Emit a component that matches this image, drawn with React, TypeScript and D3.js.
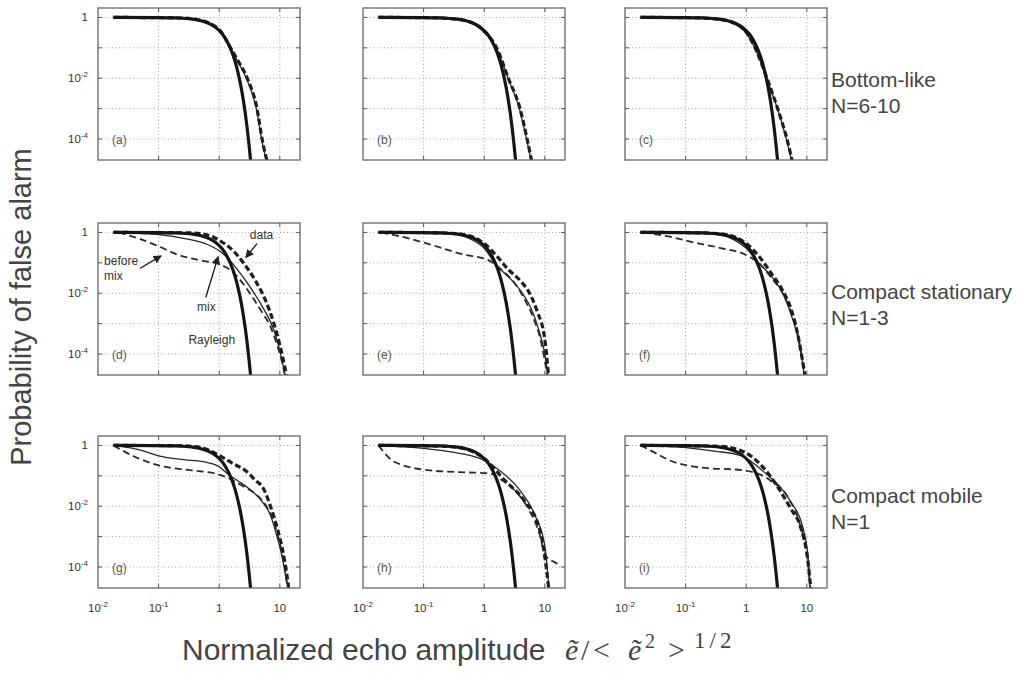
import React from "react";
import * as d3 from "d3";

type Pt = [number, number];

// ---------- labels ----------
const rowNames = ["Bottom-like", "Compact stationary", "Compact mobile"];
const rowCounts = ["N=6-10", "N=1-3", "N=1"];
const panelTags = ["(a)", "(b)", "(c)", "(d)", "(e)", "(f)", "(g)", "(h)", "(i)"];

const xTickVals = [0.01, 0.1, 1, 10];
const xTickBase = ["10", "10", "1", "10"];
const xTickExp = ["-2", "-1", "", ""];
const yTickVals = [1, 0.01, 0.0001];
const yTickBase = ["1", "10", "10"];
const yTickExp = ["", "-2", "-4"];
const xGridVals = [0.1, 1, 10];
const yGridVals = [1, 0.1, 0.01, 0.001, 0.0001];

// ---------- curves (amplitude, probability of false alarm) ----------
const rayleigh: Pt[] = [[0.018, 1], [0.1, 0.99], [0.2, 0.96], [0.35, 0.885], [0.5, 0.78], [0.7, 0.61], [0.9, 0.445], [1.1, 0.3], [1.3, 0.185], [1.5, 0.105], [1.7, 0.056], [1.9, 0.027], [2.1, 0.012], [2.3, 0.005], [2.5, 0.0019], [2.7, 0.00068], [2.9, 0.00022], [3.1, 0.000067], [3.3, 0.000019], [3.5, 0.0000048]];

const dataA: Pt[] = [[0.018, 1], [0.2, 0.97], [0.5, 0.8], [0.8, 0.55], [1, 0.4], [1.5, 0.11], [2, 0.04], [2.9, 0.01], [4.2, 0.001], [5.1, 0.0001], [5.8, 0.00003], [6.4, 0.000015]];
const mixA: Pt[] = [[0.018, 1], [0.2, 0.965], [0.5, 0.78], [0.8, 0.52], [1, 0.38], [1.5, 0.105], [2, 0.037], [2.8, 0.01], [4.1, 0.001], [5, 0.0001], [5.7, 0.00003], [6.3, 0.000015]];
const dataB: Pt[] = [[0.018, 1], [0.1, 0.985], [0.3, 0.9], [0.6, 0.7], [1, 0.35], [1.6, 0.1], [2.5, 0.01], [3.9, 0.001], [5.1, 0.0001], [6.2, 0.000015]];
const mixB: Pt[] = [[0.018, 1], [0.1, 0.98], [0.3, 0.88], [0.6, 0.66], [1, 0.33], [1.6, 0.095], [2.5, 0.0095], [3.8, 0.001], [5, 0.0001], [6.1, 0.000015]];
const dataC: Pt[] = [[0.018, 1], [0.1, 0.985], [0.3, 0.9], [0.6, 0.68], [1, 0.33], [1.4, 0.1], [2.2, 0.01], [3.3, 0.001], [4.7, 0.0001], [5.9, 0.000015]];
const mixC: Pt[] = [[0.018, 1], [0.1, 0.98], [0.3, 0.88], [0.6, 0.64], [1, 0.3], [1.4, 0.095], [2.2, 0.0095], [3.3, 0.00095], [4.6, 0.0001], [5.8, 0.000015]];

const dataD: Pt[] = [[0.018, 1], [0.3, 0.97], [0.6, 0.85], [1, 0.55], [1.7, 0.25], [2.5, 0.1], [4, 0.025], [6, 0.005], [8, 0.001], [10, 0.0002], [12, 0.00004], [13.5, 0.000012]];
const mixD: Pt[] = [[0.018, 1], [0.1, 0.85], [0.3, 0.6], [0.6, 0.42], [1, 0.25], [1.5, 0.12], [2, 0.06], [3, 0.02], [5, 0.004], [8, 0.0006], [10, 0.00013], [12.5, 0.000015]];
const beforeD: Pt[] = [[0.022, 1], [0.05, 0.6], [0.1, 0.35], [0.2, 0.19], [0.5, 0.12], [1, 0.09], [1.5, 0.06], [2, 0.035], [3, 0.012], [5, 0.0025], [7, 0.0008], [9, 0.0002], [11, 0.00005], [12.5, 0.000015]];
const dataE: Pt[] = [[0.018, 1], [0.1, 0.99], [0.3, 0.93], [0.6, 0.75], [1, 0.43], [1.6, 0.17], [2.5, 0.06], [4, 0.025], [5.6, 0.01], [7.5, 0.0025], [10, 0.0003], [11.5, 0.00002]];
const mixE: Pt[] = [[0.018, 1], [0.1, 0.98], [0.3, 0.9], [0.6, 0.6], [1, 0.3], [1.6, 0.08], [2.5, 0.035], [4, 0.012], [6, 0.003], [8, 0.0006], [10, 0.0001], [11.5, 0.000015]];
const beforeE: Pt[] = [[0.02, 1], [0.04, 0.75], [0.13, 0.4], [0.4, 0.2], [1.2, 0.12], [2, 0.055], [3, 0.025], [4.5, 0.007], [6.5, 0.0015], [8.5, 0.0003], [10, 0.00006], [11, 0.00002]];
const dataF: Pt[] = [[0.018, 1], [0.1, 0.99], [0.3, 0.93], [0.6, 0.75], [1, 0.43], [1.6, 0.17], [2.5, 0.05], [4, 0.012], [5.5, 0.003], [7, 0.0005], [8.5, 0.00006], [9.5, 0.000015]];
const mixF: Pt[] = [[0.018, 1], [0.1, 0.97], [0.3, 0.88], [0.6, 0.6], [1, 0.3], [1.6, 0.1], [2.5, 0.04], [4, 0.01], [5.5, 0.002], [7, 0.0004], [8.5, 0.00005], [9.3, 0.000015]];
const beforeF: Pt[] = [[0.02, 1], [0.05, 0.75], [0.15, 0.45], [0.4, 0.3], [1, 0.18], [1.8, 0.08], [2.5, 0.035], [4, 0.01], [5.5, 0.0025], [7, 0.0005], [8.5, 0.00006], [9.5, 0.000015]];

const dataG: Pt[] = [[0.018, 1], [0.2, 0.98], [0.5, 0.85], [1, 0.47], [1.7, 0.25], [2.7, 0.15], [4, 0.07], [5.3, 0.04], [7, 0.01], [9, 0.002], [11, 0.0004], [13, 0.00006], [14, 0.00002]];
const mixG: Pt[] = [[0.018, 1], [0.05, 0.7], [0.1, 0.45], [0.3, 0.33], [0.6, 0.28], [1, 0.2], [1.35, 0.12], [2, 0.07], [3, 0.04], [5, 0.015], [7, 0.005], [9, 0.001], [11, 0.0002], [13, 0.00003]];
const beforeG: Pt[] = [[0.018, 1], [0.038, 0.45], [0.1, 0.22], [0.37, 0.15], [1, 0.11], [1.7, 0.07], [2.5, 0.045], [4, 0.025], [6, 0.01], [8, 0.003], [10, 0.0006], [12, 0.0001], [13.5, 0.00002]];
const dataH: Pt[] = [[0.018, 1], [0.2, 0.95], [0.5, 0.75], [1, 0.37], [2.2, 0.07], [4.6, 0.015], [8.3, 0.0016], [11, 0.00005], [12, 0.00001]];
const mixH: Pt[] = [[0.018, 1], [0.1, 0.8], [0.3, 0.6], [0.58, 0.47], [1, 0.32], [1.8, 0.15], [3.9, 0.033], [6.9, 0.005], [10, 0.0005], [12, 0.00001]];
const beforeH: Pt[] = [[0.018, 1], [0.034, 0.28], [0.13, 0.15], [0.5, 0.13], [1.25, 0.12], [2, 0.07], [3.2, 0.033], [5.6, 0.007], [8.3, 0.0011], [9.8, 0.0003], [11.5, 0.00018], [14, 0.00015], [17, 0.00012]];
const dataI: Pt[] = [[0.018, 1], [0.3, 0.95], [0.7, 0.75], [1.15, 0.47], [2, 0.17], [3.6, 0.033], [5.5, 0.008], [7.8, 0.0022], [10.4, 0.00016], [12, 0.00001]];
const mixI: Pt[] = [[0.018, 1], [0.1, 0.85], [0.3, 0.65], [0.8, 0.47], [2, 0.13], [5.2, 0.016], [8.6, 0.002], [10.5, 0.0002], [11.5, 0.00001]];
const beforeI: Pt[] = [[0.018, 1], [0.03, 0.6], [0.055, 0.32], [0.17, 0.19], [0.95, 0.15], [2.5, 0.07], [5.2, 0.016], [7.8, 0.0023], [10.4, 0.00016], [11.7, 0.00001]];

const panelData = [dataA, dataB, dataC, dataD, dataE, dataF, dataG, dataH, dataI];
const panelMix = [mixA, mixB, mixC, mixD, mixE, mixF, mixG, mixH, mixI];
const panelBefore: (Pt[] | null)[] = [null, null, null, beforeD, beforeE, beforeF, beforeG, beforeH, beforeI];

// ---------- annotations in panel (d) ----------
const annoText = ["data", "before", "mix", "mix", "Rayleigh"];
const annoX = [3.2, 0.0126, 0.0126, 0.43, 0.31];
const annoP = [0.63, 0.082, 0.028, 0.0027, 0.00022];
const arrowFromX = [4.2, 0.049, 0.6];
const arrowFromP = [0.43, 0.065, 0.0072];
const arrowToX = [2.75, 0.11, 0.96];
const arrowToP = [0.15, 0.17, 0.16];

// ---------- layout ----------
const colLefts = [98, 363, 625];
const rowTops = [8, 223, 436];
const rowLabelY = [87, 299, 503];
const W = 202;
const H = 152;
const SANS = "'Liberation Sans', Arial, sans-serif";
const SERIF = "'Liberation Serif', 'Times New Roman', serif";

export default function App() {
  const x = d3.scaleLog().domain([0.01, Math.pow(10, 1.333)]).range([0, W]);
  const y = d3.scaleLog().domain([Math.pow(10, -4.69), Math.pow(10, 0.31)]).range([H, 0]);
  const line = d3
    .line<Pt>()
    .x((d) => x(d[0]))
    .y((d) => y(d[1]))
    .curve(d3.curveMonotoneX);

  const panels = [];
  for (let r = 0; r < 3; r++) {
    for (let c = 0; c < 3; c++) {
      const i = r * 3 + c;
      const before = panelBefore[i];
      panels.push(
        <g key={i} transform={`translate(${colLefts[c]},${rowTops[r]})`}>
          <clipPath id={`clip${i}`}>
            <rect x={0} y={0} width={W} height={H} />
          </clipPath>
          <rect x={0} y={0} width={W} height={H} fill="#fff" />
          {xGridVals.map((v) => (
            <line key={"gx" + v} x1={x(v)} x2={x(v)} y1={0} y2={H} stroke="#999" strokeWidth={0.9} strokeDasharray="1,2.5" />
          ))}
          {yGridVals.map((v) => (
            <line key={"gy" + v} x1={0} x2={W} y1={y(v)} y2={y(v)} stroke="#999" strokeWidth={0.9} strokeDasharray="1,2.5" />
          ))}
          {xGridVals.map((v) => (
            <g key={"tx" + v}>
              <line x1={x(v)} x2={x(v)} y1={H} y2={H - 4} stroke="#555" strokeWidth={1} />
              <line x1={x(v)} x2={x(v)} y1={0} y2={4} stroke="#555" strokeWidth={1} />
            </g>
          ))}
          {yGridVals.map((v) => (
            <g key={"ty" + v}>
              <line x1={0} x2={4} y1={y(v)} y2={y(v)} stroke="#555" strokeWidth={1} />
              <line x1={W} x2={W - 4} y1={y(v)} y2={y(v)} stroke="#555" strokeWidth={1} />
            </g>
          ))}
          <g clipPath={`url(#clip${i})`} fill="none" strokeLinejoin="round">
            {before && <path d={line(before) || ""} stroke="#2b2b2b" strokeWidth={1.8} strokeDasharray="7,4" />}
            <path d={line(panelMix[i]) || ""} stroke="#262633" strokeWidth={1.3} />
            <path d={line(panelData[i]) || ""} stroke="#1e1e1e" strokeWidth={3.2} strokeDasharray="6,3" />
            <path d={line(rayleigh) || ""} stroke="#151515" strokeWidth={3.2} />
          </g>
          <rect x={0} y={0} width={W} height={H} fill="none" stroke="#666" strokeWidth={1.3} />
          <text x={14} y={H - 16} fontFamily={SANS} fontSize={12} fill="#555">
            {panelTags[i]}
          </text>
          {c === 0 &&
            yTickVals.map((v, k) => (
              <text key={"yl" + k} x={-10} y={y(v)} dy="0.35em" textAnchor="end" fontFamily={SANS} fontSize={11.5} fill="#333">
                {yTickBase[k]}
                {yTickExp[k] && (
                  <tspan fontSize={8} dy={-5}>
                    {yTickExp[k]}
                  </tspan>
                )}
              </text>
            ))}
          {r === 2 &&
            xTickVals.map((v, k) => (
              <text key={"xl" + k} x={x(v)} y={H + 24} textAnchor="middle" fontFamily={SANS} fontSize={11.5} fill="#333">
                {xTickBase[k]}
                {xTickExp[k] && (
                  <tspan fontSize={8} dy={-5}>
                    {xTickExp[k]}
                  </tspan>
                )}
              </text>
            ))}
          {i === 3 && (
            <g>
              {annoText.map((t, k) => (
                <text key={"an" + k} x={x(annoX[k])} y={y(annoP[k])} fontFamily={SANS} fontSize={12} fill="#333">
                  {t}
                </text>
              ))}
              {arrowFromX.map((v, k) => (
                <line
                  key={"ar" + k}
                  x1={x(v)}
                  y1={y(arrowFromP[k])}
                  x2={x(arrowToX[k])}
                  y2={y(arrowToP[k])}
                  stroke="#222"
                  strokeWidth={1.4}
                  markerEnd="url(#arrowHead)"
                />
              ))}
            </g>
          )}
        </g>
      );
    }
  }

  return (
    <svg width={1032} height={673} style={{ position: "absolute", left: 0, top: 0, background: "#fff" }}>
      <defs>
        <marker id="arrowHead" viewBox="0 0 10 10" refX={9} refY={5} markerWidth={6} markerHeight={6} orient="auto">
          <path d="M0,0 L10,5 L0,10 z" fill="#222" />
        </marker>
      </defs>
      <rect x={0} y={0} width={1032} height={673} fill="#fff" />
      {panels}
      {rowNames.map((n, r) => (
        <g key={"rl" + r}>
          <text x={831} y={rowLabelY[r]} fontFamily={SANS} fontSize={21} fill="#444">
            {n}
          </text>
          <text x={831} y={rowLabelY[r] + 26} fontFamily={SANS} fontSize={21} fill="#444">
            {rowCounts[r]}
          </text>
        </g>
      ))}
      <text
        transform="translate(31,307) rotate(-90)"
        textAnchor="middle"
        fontFamily={SANS}
        fontSize={29}
        fill="#444"
      >
        Probability of false alarm
      </text>
      <text x={182} y={660} fontFamily={SANS} fontSize={30} fill="#444">
        Normalized echo amplitude
        <tspan x={565} fontFamily={SERIF} fontStyle="italic">ẽ</tspan>
        <tspan x={581} fontFamily={SERIF}>/</tspan>
        <tspan x={593} fontFamily={SERIF}>&lt;</tspan>
        <tspan x={628} fontFamily={SERIF} fontStyle="italic">ẽ</tspan>
        <tspan x={645} dy={-12} fontFamily={SERIF} fontSize={20}>2</tspan>
        <tspan x={668} dy={12} fontFamily={SERIF}>&gt;</tspan>
        <tspan x={694} dy={-12} fontFamily={SERIF} fontSize={23} letterSpacing={4}>1/2</tspan>
      </text>
    </svg>
  );
}
